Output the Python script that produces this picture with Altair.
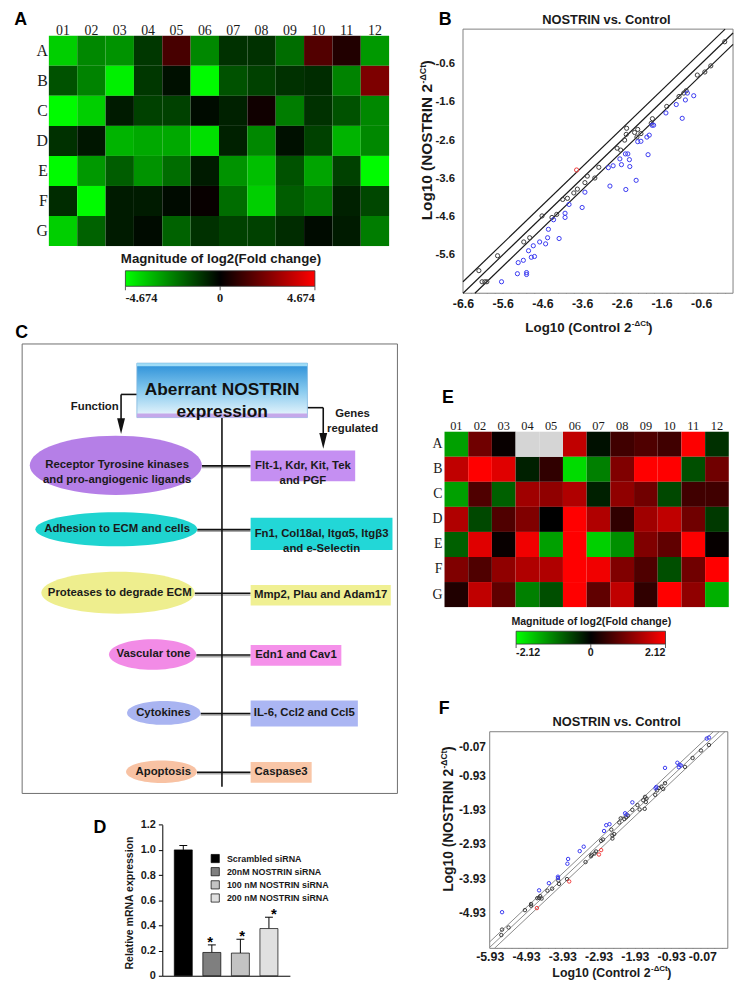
import altair as alt
import pandas as pd

# ---------------- canvas ----------------
W, H = 737, 978          # chart area (page minus the 8px margin)
M = 8


def cx(v):
    return round(v - M, 2)


def cy(v):
    return round(v - M, 2)


SANS = "Liberation Sans"
SERIF = "Liberation Serif"
INK = "#1a1a1a"
MINUS = "\u2212"

# ======================= DATA =======================
COLS = ["01", "02", "03", "04", "05", "06", "07", "08", "09", "10", "11", "12"]
ROWS = ["A", "B", "C", "D", "E", "F", "G"]

# Panel A: log2 fold change (range +-4.674)
A_VALUES = [
    [-3.8, -2.5, -2.7, -1.0, 1.3, -2.5, -0.9, -0.9, -2.0, 1.5, 0.6, -2.8],
    [-1.5, -2.4, -4.4, -1.0, -0.3, -4.6, -1.5, -1.2, -0.9, -0.8, -2.4, 2.3],
    [-4.6, -3.8, -0.5, -1.2, -1.2, -0.2, -0.6, 0.3, -2.3, -0.9, -1.5, -2.5],
    [-0.9, -0.4, -3.3, -3.1, -3.1, -4.1, -0.6, -2.5, -0.3, -1.2, -3.3, -2.5],
    [-4.6, -2.8, -1.7, -2.7, -2.0, -0.5, -2.7, -3.5, -1.5, -3.0, -1.2, -4.6],
    [-0.8, -4.6, -0.5, -0.5, -0.2, 0.15, -2.0, -3.8, -1.7, -2.2, -0.6, -1.3],
    [-3.8, -1.8, -0.5, -0.2, -1.8, -0.9, -1.2, -1.2, -0.8, -0.2, -0.5, -2.3],
]
A_LIMIT = 4.674

# Panel E: log2 fold change (range +-2.12), None = not measured (grey)
E_VALUES = [
    [-1.33, 0.93, 0.07, None, None, 1.6, -0.13, 0.53, 0.66, 0.53, 2.1, -0.4],
    [1.6, 2.12, 1.86, -0.27, 0.4, -1.83, -1.06, 1.06, 2.12, 2.12, -0.66, 0.93],
    [-1.33, 0.66, -0.8, 1.33, 1.2, 1.46, -0.27, 1.2, 0.93, -0.6, 0.53, 0.53],
    [1.46, -0.6, 0.66, 1.06, 0.0, 2.12, 1.46, 0.4, 1.33, 1.6, 0.93, -0.47],
    [-0.8, 1.86, 0.07, 2.0, -1.33, 2.12, -1.73, -1.2, 1.06, 0.8, 2.1, 0.05],
    [1.06, 0.66, 1.2, 1.46, 1.46, 2.12, 2.0, 1.06, 0.66, -0.66, 0.93, 2.12],
    [0.27, 1.6, 0.8, -1.06, -0.66, 2.12, 0.8, 1.6, 0.4, 2.12, 1.2, -1.46],
]
E_LIMIT = 2.12

# Panel B scatter (log10 2^-dCt)
B_BLACK_X = [-0.01, -0.36, -0.51, -0.70, -0.98, -1.04, -1.16, -1.47, -1.83, -1.86, -2.48, -2.20, -2.28,
             -2.12, -2.49, -2.22, -2.53, -2.72, -2.63, -3.18, -3.47, -3.28, -3.53, -3.72, -3.81, -3.97,
             -4.09, -4.24, -4.36, -4.61, -4.92, -5.07, -5.73, -6.20, -6.12, -6.05, -6.00]
B_BLACK_Y = [-0.03, -0.66, -0.82, -0.90, -1.31, -1.37, -1.46, -1.72, -2.04, -2.16, -2.29, -2.32, -2.40,
             -2.43, -2.45, -2.52, -2.60, -2.81, -2.86, -3.31, -3.54, -3.59, -3.71, -3.88, -3.98, -4.12,
             -4.15, -4.54, -4.62, -4.58, -5.15, -5.26, -5.62, -6.01, -6.30, -6.30, -6.30]
B_BLUE_X = [-0.95, -0.79, -1.00, -1.23, -1.49, -1.08, -1.84, -1.80, -1.91, -1.97, -2.12, -2.20, -1.94,
            -2.51, -2.45, -2.65, -2.41, -2.94, -2.82, -2.61, -2.40, -2.24, -2.90, -2.50, -3.53, -3.93,
            -3.60, -4.03, -4.03, -4.32, -4.45, -4.47, -4.18, -4.67, -4.52, -4.83, -4.95, -4.80, -4.88,
            -5.08, -5.21, -5.23, -5.00, -5.00, -5.63]
B_BLUE_Y = [-1.37, -1.44, -1.55, -1.67, -1.89, -2.03, -2.21, -2.21, -2.47, -2.52, -2.63, -2.64, -2.98,
            -2.96, -2.96, -3.09, -3.11, -3.32, -3.27, -3.24, -3.29, -3.65, -3.80, -3.89, -3.96, -4.28,
            -4.36, -4.51, -4.62, -4.68, -4.93, -5.15, -5.17, -5.26, -5.31, -5.36, -5.49, -5.64, -5.66,
            -5.74, -5.80, -6.09, -6.06, -6.11, -6.30]
B_RED_X = [-3.74]
B_RED_Y = [-3.38]
B_FOLD_OFFSETS = [0.3, 0.0, -0.3]
B_X_DOMAIN = [-6.6, 0.2]
B_Y_DOMAIN = [-6.6, 0.3]
B_X_TICKS = [-6.6, -5.6, -4.6, -3.6, -2.6, -1.6, -0.6]
B_Y_TICKS = [-0.6, -1.6, -2.6, -3.6, -4.6, -5.6]

# Panel F scatter
F_BLACK_X = [0.11, -0.11, -0.34, -0.55, -1.10, -1.27, -1.20, -1.15, -1.32, -1.37, -1.61, -1.65, -1.63,
             -1.70, -1.86, -1.80, -1.66, -2.00, -2.17, -2.22, -2.12, -2.32, -2.36, -2.58, -2.50, -2.86,
             -2.81, -2.55, -2.55, -3.00, -3.04, -3.12, -3.14, -3.29, -3.80, -4.04, -4.02, -4.21, -4.34,
             -4.57, -4.54, -4.62, -4.50, -4.79, -4.79, -4.96, -5.41, -5.59, -5.61]
F_BLACK_Y = [-0.03, -0.19, -0.41, -0.67, -1.15, -1.29, -1.25, -1.32, -1.36, -1.49, -1.60, -1.55, -1.70,
             -1.65, -1.79, -1.92, -1.90, -1.93, -2.15, -2.20, -2.10, -2.18, -2.30, -2.51, -2.64, -2.84,
             -2.80, -2.68, -2.77, -3.15, -3.21, -3.25, -3.29, -3.46, -3.96, -4.00, -4.10, -4.24, -4.30,
             -4.51, -4.46, -4.52, -4.53, -4.69, -4.74, -4.87, -5.38, -5.44, -5.60]
F_BLUE_X = [0.05, 0.11, -1.10, -0.76, -0.70, -0.72, -0.66, -1.34, -1.36, -2.00, -2.20, -2.16, -2.63,
            -2.72, -2.78, -3.34, -3.45, -3.77, -3.79, -4.05, -4.05, -4.30, -4.57, -5.59]
F_BLUE_Y = [0.16, 0.19, -0.70, -0.55, -0.61, -0.68, -0.63, -1.26, -1.30, -1.71, -2.03, -2.07, -2.35,
            -2.38, -2.55, -3.01, -3.14, -3.37, -3.51, -3.89, -3.93, -4.08, -4.29, -4.93]
F_RED_X = [-2.86, -2.92, -3.74, -4.63]
F_RED_Y = [-3.11, -3.24, -4.03, -4.81]
F_FOLD_OFFSETS = [0.13, -0.03, -0.19]
F_X_DOMAIN = [-5.93, 0.63]
F_Y_DOMAIN = [-5.99, 0.36]
F_X_TICKS = [-5.93, -4.93, -3.93, -2.93, -1.93, -0.93, -0.07]
F_Y_TICKS = [-0.07, -0.93, -1.93, -2.93, -3.93, -4.93]

# Panel D bar chart
D_GROUPS = ["Scrambled siRNA", "20nM NOSTRIN siRNA", "100 nM NOSTRIN siRNA", "200 nM NOSTRIN siRNA"]
D_MEANS = [1.0, 0.185, 0.18, 0.375]
D_ERRS = [0.035, 0.06, 0.11, 0.09]
D_SIG = [False, True, True, True]
D_TICKS = [0, 0.2, 0.4, 0.6, 0.8, 1.0, 1.2]

# Panel C diagram text
C_TITLE = "Aberrant NOSTRIN\nexpression"
C_FUNCTIONS = ["Receptor Tyrosine kinases\nand pro-angiogenic ligands", "Adhesion to ECM and cells",
               "Proteases to degrade ECM", "Vascular tone", "Cytokines", "Apoptosis"]
C_GENES = ["Flt-1, Kdr, Kit, Tek\nand PGF", "Fn1, Col18al, Itg\u03b15, Itg\u03b23\nand e-Selectin",
           "Mmp2, Plau and Adam17", "Edn1 and Cav1", "IL-6, Ccl2 and Ccl5", "Caspase3"]

# ======================= STYLE / LAYOUT =======================
GREEN_BLACK_RED = ["#00ff00", "#000000", "#ff0000"]
SCATTER_COLORS = ["#3c3c3c", "#3a3af0", "#f03c3c"]
D_COLORS = ["#000000", "#7f7f7f", "#c3c3c3", "#e0e0e0"]
C_ELLIPSE_FILL = ["#b57fe7", "#1fd4d0", "#eeee8e", "#f28be6", "#a9b4f1", "#f8c2a3"]
C_RECT_FILL = ["#c58ff2", "#22d7d7", "#f0f093", "#f591ea", "#abb6f3", "#f9c6a7"]
# diagram geometry (px relative to the panel C frame)
C_FRAME = (22.3, 342.3, 401.7, 796.7)
C_ELLIPSES = [(94.7, 122.7, 174, 60), (95.2, 187.2, 163.6, 34.4), (96.9, 251.5, 155, 42.3),
              (131.9, 313.9, 88.3, 31), (143.2, 373.0, 74.3, 24), (140.9, 432.4, 71.7, 22.7)]
C_FUNC_TEXT_X = [96, 96, 98.7, 132.7, 142.7, 142.7]
C_RECTS = [(231, 336.7, 107.7, 138.7), (231, 374.4, 175.7, 208.4), (231, 372.7, 243.7, 264.4),
           (231, 322.7, 304.4, 325.4), (231, 339.4, 360.4, 386.7), (231, 292.7, 422.7, 443.7)]
C_TITLE_BOX = (116, 288.4, 19.4, 74.4)
C_SPINE_X = 202


def fmt_expr(fmt, zero_plain=False):
    base = f"replace(format(datum.value, '{fmt}'), '{MINUS}', '-')"
    if zero_plain:
        return f"datum.value == 0 ? '0' : {base}"
    return base


def qscale(domain, rng):
    return alt.Scale(domain=domain, range=rng, nice=False, zero=False)


def text_mark(text, x, y, size, weight="bold", font=SANS, align="center", baseline="middle",
              angle=0, color=INK, line_height=None):
    props = dict(font=font, fontSize=size, fontWeight=weight, align=align, baseline=baseline, color=color)
    if angle:
        props["angle"] = angle
    if line_height:
        props["lineBreak"] = "\n"
        props["lineHeight"] = line_height
    return alt.Chart(pd.DataFrame({"t": [text]})).mark_text(**props).encode(
        x=alt.value(cx(x)), y=alt.value(cy(y)), text="t:N")


layers = []


# ======================= HEATMAPS =======================
def heatmap(values, vmax, box, col_fs, row_fs, col_pad, row_pad, leg_box, leg_font, leg_fs, leg_off, fmt):
    x0, x1, y0, y1 = box
    recs = []
    for r, row in zip(ROWS, values):
        for c, v in zip(COLS, row):
            recs.append({"row": r, "col": c, "v": v})
    df = pd.DataFrame(recs)
    xs = alt.Scale(domain=COLS, range=[cx(x0), cx(x1)], paddingInner=0, paddingOuter=0)
    ys = alt.Scale(domain=ROWS, range=[cy(y0), cy(y1)], paddingInner=0, paddingOuter=0)
    xax = alt.Axis(orient="top", offset=-cy(y0), ticks=False, tickSize=0, domain=False, labelAngle=0,
                   labelFont=SERIF, labelFontSize=col_fs, labelPadding=col_pad, labelBaseline="alphabetic",
                   labelColor=INK, title=None)
    yax = alt.Axis(orient="left", offset=-cx(x0), ticks=False, tickSize=0, domain=False,
                   labelFont=SERIF, labelFontSize=row_fs, labelPadding=row_pad, labelColor=INK, title=None)
    gx0, gx1, gy0, gy1 = leg_box
    vals = [-vmax, 0, vmax]
    color = alt.Color(
        "v:Q",
        scale=alt.Scale(domain=vals, range=GREEN_BLACK_RED, interpolate="rgb"),
        legend=alt.Legend(orient="none", legendX=cx(gx0), legendY=cy(gy0), direction="horizontal",
                          title=None, values=vals, gradientLength=gx1 - gx0, gradientThickness=gy1 - gy0,
                          gradientStrokeColor="#333333", gradientStrokeWidth=0.8,
                          labelExpr=fmt_expr(fmt, zero_plain=True), labelFont=leg_font,
                          labelFontWeight="bold", labelFontSize=leg_fs, labelAlign="center",
                          labelOffset=leg_off, labelOverlap=False, labelColor=INK))
    out = [alt.Chart(df).transform_filter("isValid(datum.v)").mark_rect().encode(
        x=alt.X("col:O", scale=xs, axis=xax), y=alt.Y("row:O", scale=ys, axis=yax), color=color)]
    if df["v"].isna().any():
        out.append(alt.Chart(df).transform_filter("!isValid(datum.v)").mark_rect(color="#d5d5d5").encode(
            x=alt.X("col:O", scale=xs, axis=None), y=alt.Y("row:O", scale=ys, axis=None)))
    # small tick marks under the colour bar
    out.append(alt.Chart(pd.DataFrame({"v": vals})).mark_rule(color="#333333", strokeWidth=0.8).encode(
        x=alt.X("v:Q", scale=qscale([-vmax, vmax], [cx(gx0), cx(gx1)]), axis=None),
        y=alt.value(cy(gy1)), y2=alt.value(cy(gy1) + 4)))
    return out


layers += heatmap(A_VALUES, A_LIMIT, (49.3, 393.3, 30.7, 243.3), 14, 16, 1.5, 1.5,
                  (126.7, 318.3, 268.3, 284.0), SERIF, 12.5, 5.5, ".3f")
layers += heatmap(E_VALUES, E_LIMIT, (449.3, 736.7, 431.0, 608.3), 12.5, 14, 2, 2.5,
                  (521.7, 672.7, 632.7, 645.7), SANS, 10.7, 4.5, ".2f")


# ======================= SCATTERS =======================
def clip_line(c, xdom, ydom):
    xa = max(xdom[0], ydom[0] - c)
    xb = min(xdom[1], ydom[1] - c)
    return [xa, xb], [xa + c, xb + c]


def scatter(frame, xdom, ydom, pts, offsets, line_color, line_w, xticks, yticks, fmt, fsx, fsy,
            xpad, ypad, pt_size):
    x0, x1, y0, y1 = frame
    xs = qscale(xdom, [cx(x0), cx(x1)])
    ys = qscale(ydom, [cy(y1), cy(y0)])
    fdf = pd.DataFrame({"x": [xdom[0]], "x2": [xdom[1]], "y": [ydom[0]], "y2": [ydom[1]]})
    ax_x = alt.Axis(orient="bottom", offset=cy(y1) - H, values=xticks, labelExpr=fmt_expr(fmt),
                    ticks=False, tickSize=0, domain=False, labelFont=SANS, labelFontWeight="bold",
                    labelFontSize=fsx, labelPadding=xpad, labelFlush=False, labelOverlap=False,
                    labelColor=INK, title=None, grid=False)
    ax_y = alt.Axis(orient="left", offset=-cx(x0), values=yticks, labelExpr=fmt_expr(fmt),
                    ticks=False, tickSize=0, domain=False, labelFont=SANS, labelFontWeight="bold",
                    labelFontSize=fsy, labelPadding=ypad, labelFlush=False, labelOverlap=False,
                    labelColor=INK, title=None, grid=False)
    out = [alt.Chart(fdf).mark_rect(fill="white", stroke="#808080", strokeWidth=1).encode(
        x=alt.X("x:Q", scale=xs, axis=ax_x), x2="x2:Q", y=alt.Y("y:Q", scale=ys, axis=ax_y), y2="y2:Q")]
    nx = int(round((xdom[1] - xdom[0]) / 0.2))
    ny = int(round((ydom[1] - ydom[0]) / 0.2))
    minor_x = [round(xdom[0] + 0.2 * i, 2) for i in range(1, nx)]
    minor_y = [round(ydom[0] + 0.2 * i, 2) for i in range(1, ny)]
    mx = alt.Axis(orient="bottom", offset=cy(y1) - H - 3, values=minor_x, labels=False, domain=False,
                  tickSize=3, tickColor="#666666", tickWidth=0.8, grid=False, title=None)
    my = alt.Axis(orient="left", offset=-(cx(x0) + 3), values=minor_y, labels=False, domain=False,
                  tickSize=3, tickColor="#666666", tickWidth=0.8, grid=False, title=None)
    recs = []
    for i, c in enumerate(offsets):
        lx, ly = clip_line(c, xdom, ydom)
        for a, b in zip(lx, ly):
            recs.append({"line": i, "x": a, "y": b})
    out.append(alt.Chart(pd.DataFrame(recs)).mark_line(color=line_color, strokeWidth=line_w).encode(
        x=alt.X("x:Q", scale=xs, axis=mx), y=alt.Y("y:Q", scale=ys, axis=my), detail="line:N"))
    out.append(alt.Chart(pts).mark_point(filled=False, size=pt_size, strokeWidth=1, opacity=1).encode(
        x=alt.X("x:Q", scale=xs, axis=None), y=alt.Y("y:Q", scale=ys, axis=None),
        color=alt.Color("grp:N", scale=alt.Scale(domain=["black", "blue", "red"], range=SCATTER_COLORS),
                        legend=None)))
    return out


def pts_frame(bx, by, ux, uy, rx, ry):
    return pd.concat([
        pd.DataFrame({"x": bx, "y": by, "grp": "black"}),
        pd.DataFrame({"x": ux, "y": uy, "grp": "blue"}),
        pd.DataFrame({"x": rx, "y": ry, "grp": "red"}),
    ], ignore_index=True)


layers += scatter((468, 741, 24, 291), B_X_DOMAIN, B_Y_DOMAIN,
                  pts_frame(B_BLACK_X, B_BLACK_Y, B_BLUE_X, B_BLUE_Y, B_RED_X, B_RED_Y),
                  B_FOLD_OFFSETS, "#1a1a1a", 1.2, B_X_TICKS, B_Y_TICKS, ".1f", 12.5, 11.5, 4.5, 8.5, 18)
layers += scatter((495, 735.7, 734.3, 953.3), F_X_DOMAIN, F_Y_DOMAIN,
                  pts_frame(F_BLACK_X, F_BLACK_Y, F_BLUE_X, F_BLUE_Y, F_RED_X, F_RED_Y),
                  F_FOLD_OFFSETS, "#8a8a8a", 1.0, F_X_TICKS, F_Y_TICKS, ".2f", 12.5, 12, 2, 4.3, 12)


def sup_title_h(main, anchor_x, base_y, size, sup_size, sup_w):
    return [text_mark(main, anchor_x, base_y, size, align="right", baseline="alphabetic"),
            text_mark("-\u0394Ct", anchor_x + 0.5, base_y - size * 0.42, sup_size, align="left",
                      baseline="alphabetic"),
            text_mark(")", anchor_x + 0.5 + sup_w, base_y, size, align="left", baseline="alphabetic")]


def sup_title_v(main, base_x, anchor_y, size, sup_size, sup_w):
    return [text_mark(main, base_x, anchor_y, size, align="right", baseline="alphabetic", angle=270),
            text_mark("-\u0394Ct", base_x - size * 0.42, anchor_y - 0.5, sup_size, align="left",
                      baseline="alphabetic", angle=270),
            text_mark(")", base_x, anchor_y - 0.5 - sup_w, size, align="left", baseline="alphabetic",
                      angle=270)]


layers += sup_title_h("Log10 (Control 2", 638.2, 330, 13.5, 8, 16.4)
layers += sup_title_v("Log10 (NOSTRIN 2", 436.8, 79.5, 15.5, 9, 18.5)
layers += sup_title_h("Log10 (Control 2", 657.6, 981.8, 12.5, 8, 16.4)
layers += sup_title_v("Log10 (NOSTRIN 2", 457.7, 771.9, 14, 8.5, 17.5)
layers.append(text_mark("NOSTRIN vs. Control", 613, 14.5, 13))
layers.append(text_mark("NOSTRIN vs. Control", 623.3, 725, 13))

# ======================= PANEL C DIAGRAM =======================
fx0, fy0, fx1, fy1 = C_FRAME
c_xs = qscale([0, fx1 - fx0], [cx(fx0), cx(fx1)])
c_ys = qscale([0, fy1 - fy0], [cy(fy0), cy(fy1)])


def cenc(two=False):
    enc = dict(x=alt.X("x:Q", scale=c_xs, axis=None), y=alt.Y("y:Q", scale=c_ys, axis=None))
    if two:
        enc["x2"] = alt.X2("x2:Q")
        enc["y2"] = alt.Y2("y2:Q")
    return enc


layers.append(alt.Chart(pd.DataFrame({"x": [0], "x2": [fx1 - fx0], "y": [0], "y2": [fy1 - fy0]}))
              .mark_rect(fill="white", stroke="#6e6e6e", strokeWidth=1).encode(**cenc(True)))

# connector segments
seg = []
shadow = []
seg.append((C_SPINE_X, C_SPINE_X, C_TITLE_BOX[3], 447.7))
seg += [(116, 100, 51, 51), (100, 100, 51, 84), (288.4, 304.4, 64.4, 64.4), (304.4, 304.4, 64.4, 99)]
for (ex, ey, ew, eh), (rx0, rx1, ry0, ry1) in zip(C_ELLIPSES, C_RECTS):
    seg.append((ex + ew / 2, rx0, ey + 0.5, ey + 0.5))
    shadow.append((ex + ew / 2, rx0, ey + 2.2, ey + 2.2))
layers.append(alt.Chart(pd.DataFrame(shadow, columns=["x", "x2", "y", "y2"]))
              .mark_rule(color="#a8a8a8", strokeWidth=1.5).encode(**cenc(True)))
layers.append(alt.Chart(pd.DataFrame(seg, columns=["x", "x2", "y", "y2"]))
              .mark_rule(color="#111111", strokeWidth=1.6).encode(**cenc(True)))

# ellipses (custom symbol paths)
ell = []
for (ex, ey, ew, eh), fill in zip(C_ELLIPSES, C_ELLIPSE_FILL):
    r = eh / ew
    ell.append({"x": ex, "y": ey, "s": ew * ew, "fill": fill,
                "shape": f"M-1,0A1,{r:.3f},0,1,1,1,0A1,{r:.3f},0,1,1,-1,0Z"})
layers.append(alt.Chart(pd.DataFrame(ell)).mark_point(filled=True, opacity=1, strokeWidth=0).encode(
    **cenc(), shape=alt.Shape("shape:N", scale=None), size=alt.Size("s:Q", scale=None),
    color=alt.Color("fill:N", scale=None)))

rects = pd.DataFrame([{"x": a, "x2": b, "y": c, "y2": d, "fill": f}
                      for (a, b, c, d), f in zip(C_RECTS, C_RECT_FILL)])
layers.append(alt.Chart(rects).mark_rect().encode(**cenc(True), color=alt.Color("fill:N", scale=None)))

# title box with gradient and bevel
tb = C_TITLE_BOX
grad = alt.Gradient(gradient="linear", x1=0, x2=0, y1=0, y2=1,
                    stops=[alt.GradientStop(color="#2a8fd8", offset=0),
                           alt.GradientStop(color="#86c9ee", offset=0.5),
                           alt.GradientStop(color="#eef8fd", offset=1)])
layers.append(alt.Chart(pd.DataFrame({"x": [tb[0]], "x2": [tb[1]], "y": [tb[2]], "y2": [tb[3]]}))
              .mark_rect(fill=grad, stroke="#7fb6de", strokeWidth=0.8).encode(**cenc(True)))
layers.append(alt.Chart(pd.DataFrame({"x": [tb[0], tb[0]], "x2": [tb[1], tb[1]],
                                      "y": [tb[2], tb[3] - 4], "y2": [tb[2] + 3, tb[3]],
                                      "fill": ["#9fdcf6", "#c5a8ea"]}))
              .mark_rect().encode(**cenc(True), color=alt.Color("fill:N", scale=None)))

# arrow heads
layers.append(alt.Chart(pd.DataFrame({"x": [100, 304.4], "y": [83, 98]}))
              .mark_point(shape="M-0.5,-1L0.5,-1L0,1Z", size=256, filled=True, color="#111111", opacity=1)
              .encode(**cenc()))

# diagram text
for txt, tx, (ex, ey, ew, eh) in zip(C_FUNCTIONS, C_FUNC_TEXT_X, C_ELLIPSES):
    layers.append(text_mark(txt, tx + fx0, ey + fy0, 11.5, line_height=15))
for txt, (a, b, c, d) in zip(C_GENES, C_RECTS):
    layers.append(text_mark(txt, (a + b) / 2 + fx0, (c + d) / 2 + fy0, 11.5, line_height=15.5))
layers.append(text_mark(C_TITLE, (tb[0] + tb[1]) / 2 + fx0, (tb[2] + tb[3]) / 2 + fy0 - 0.5, 17.5,
                        line_height=22.7, color="#111111"))
layers.append(text_mark("Function", 73.4 + fx0, 63.4 + fy0, 11.5))
layers.append(text_mark("Genes\nregulated", 334 + fx0, 71 + fy0, 11.5, line_height=15))

# ======================= PANEL D BARS =======================
ddf = pd.DataFrame({"group": D_GROUPS, "mean": D_MEANS, "err": D_ERRS, "sig": D_SIG})
dxs = alt.Scale(domain=D_GROUPS, range=[cx(164), cx(293)], paddingInner=0.37, paddingOuter=0.42)
dys = qscale([0, 1.2], [cy(981), cy(828.3)])
d_xax = alt.Axis(orient="bottom", offset=cy(981) - H, labels=False, ticks=False, tickSize=0,
                 domain=True, domainColor="#000000", domainWidth=1, title=None)
d_yax = alt.Axis(orient="left", offset=-cx(164), values=D_TICKS, labelExpr=fmt_expr(".1f", zero_plain=True),
                 tickSize=4, tickColor="#000000", domainColor="#000000", labelFont=SANS,
                 labelFontWeight="bold", labelFontSize=11, labelPadding=3, labelColor=INK, title=None,
                 grid=False, labelFlush=False, labelOverlap=False)
layers.append(alt.Chart(ddf).transform_calculate(top="datum.mean + datum.err")
              .mark_rule(color="#000000", strokeWidth=1).encode(
    x=alt.X("group:N", scale=dxs, axis=None), y=alt.Y("mean:Q", scale=dys, axis=None), y2="top:Q"))
layers.append(alt.Chart(ddf).mark_bar(stroke="#000000", strokeWidth=0.7).encode(
    x=alt.X("group:N", scale=dxs, axis=d_xax),
    y=alt.Y("mean:Q", scale=dys, axis=d_yax),
    color=alt.Color("group:N", scale=alt.Scale(domain=D_GROUPS, range=D_COLORS),
                    legend=alt.Legend(orient="none", legendX=cx(212.5), legendY=cy(857.5), title=None,
                                      symbolType="square", symbolSize=69, symbolStrokeColor="#000000",
                                      symbolStrokeWidth=0.7, symbolOpacity=1, labelFont=SANS,
                                      labelFontWeight="bold", labelFontSize=9, labelColor=INK,
                                      labelOffset=6.8, rowPadding=1.3))))
layers.append(alt.Chart(ddf).transform_calculate(top="datum.mean + datum.err")
              .mark_tick(color="#000000", size=8, thickness=1, opacity=1).encode(
    x=alt.X("group:N", scale=dxs, axis=None), y=alt.Y("top:Q", scale=dys, axis=None)))
layers.append(alt.Chart(ddf).transform_filter("datum.sig").transform_calculate(top="datum.mean + datum.err")
              .mark_text(text="*", font=SANS, fontSize=15, fontWeight="bold", baseline="alphabetic",
                         dy=2, color="#000000").encode(
    x=alt.X("group:N", scale=dxs, axis=None), y=alt.Y("top:Q", scale=dys, axis=None)))
layers.append(text_mark("Relative mRNA expression", 131.7, 907.5, 10.6, angle=270))

# ======================= LEGEND TITLES & PANEL LETTERS =======================
layers.append(text_mark("Magnitude of log2(Fold change)", 223.3, 256.7, 13.4))
layers.append(text_mark("Magnitude of log2(Fold change)", 597.7, 623.3, 10.7))
for letter, lx, ly in [("A", 20.7, 15), ("B", 450, 15), ("C", 21.7, 331.7), ("D", 101, 831.7),
                       ("E", 452.7, 396.7), ("F", 449, 711)]:
    layers.append(text_mark(letter, lx, ly, 18, color="#000000"))

chart = (alt.layer(*layers)
         .properties(width=W, height=H, autosize=alt.AutoSizeParams(type="none"), padding=0,
                     background="white")
         .resolve_scale(x="independent", y="independent", color="independent", shape="independent",
                        size="independent")
         .resolve_axis(x="independent", y="independent")
         .resolve_legend(color="independent")
         .configure_axis(grid=False)
         .configure_view(stroke=None))

chart.save("out.html", embed_options={"renderer": "svg", "actions": False})
